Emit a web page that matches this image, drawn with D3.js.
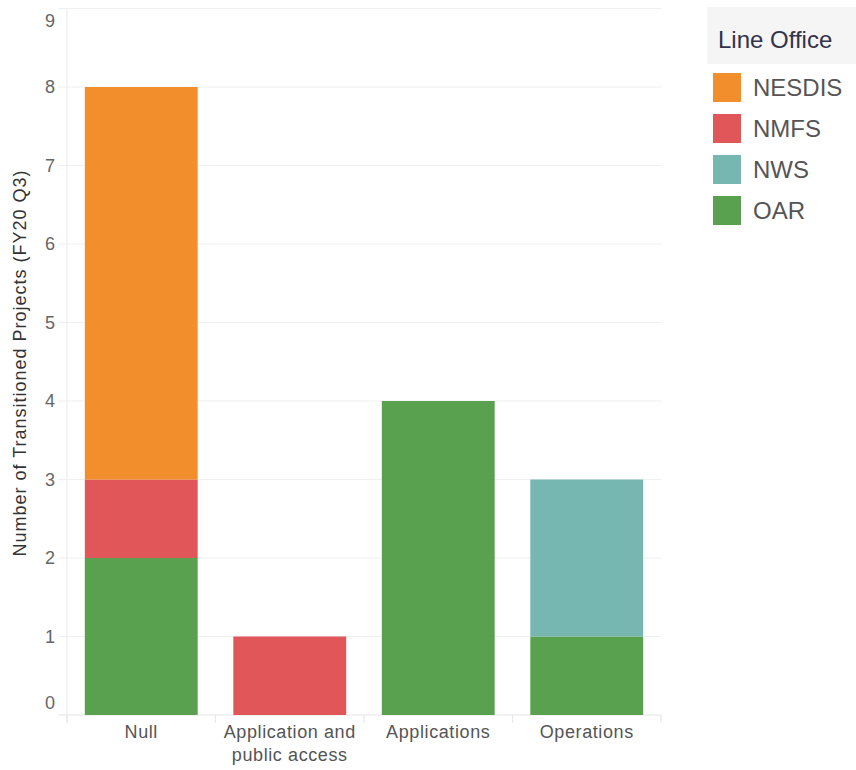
<!DOCTYPE html>
<html>
<head>
<meta charset="utf-8">
<script src="https://cdn.jsdelivr.net/npm/d3@7"></script>
<style>
  body { margin: 0; background: #fff; }
  text { font-family: "Liberation Sans", Arial, sans-serif; }
</style>
</head>
<body>
<div id="chart"></div>
<script>
// data
const categories = ["Null", "Application and public access", "Applications", "Operations"];
const categoryLines = [["Null"], ["Application and", "public access"], ["Applications"], ["Operations"]];
const offices = ["NESDIS", "NMFS", "NWS", "OAR"];
const officeColors = ["#f28e2b", "#e15759", "#76b7b2", "#59a14f"];
const nesdis = [5, 0, 0, 0];
const nmfs = [1, 1, 0, 0];
const nws = [0, 0, 0, 2];
const oar = [2, 0, 4, 1];
const yTicks = [0, 1, 2, 3, 4, 5, 6, 7, 8, 9];

const W = 856, H = 770;
const plotLeft = 67, plotRight = 661, plotTop = 8.5, plotBottom = 715;

const svg = d3.select("#chart").append("svg")
    .attr("width", W)
    .attr("height", H);

// table for d3.stack
const table = categories.map((c, i) => ({
    cat: c, NESDIS: nesdis[i], NMFS: nmfs[i], NWS: nws[i], OAR: oar[i]
}));

const x = d3.scaleBand()
    .domain(categories)
    .range([plotLeft, plotRight])
    .paddingInner(0.24)
    .paddingOuter(0.12);

const y = d3.scaleLinear()
    .domain([0, 9])
    .range([plotBottom, plotTop]);

const color = d3.scaleOrdinal().domain(offices).range(officeColors);

// gridlines
svg.append("g").selectAll("line")
  .data(yTicks)
  .join("line")
    .attr("x1", 58).attr("x2", plotRight)
    .attr("y1", d => y(d)).attr("y2", d => y(d))
    .attr("stroke", d => d === 0 ? "#e6e6e6" : "#f0f0f0")
    .attr("stroke-width", 1.2);

// vertical axis line
svg.append("line")
    .attr("x1", plotLeft).attr("x2", plotLeft)
    .attr("y1", y(9)).attr("y2", plotBottom + 8)
    .attr("stroke", "#ececec")
    .attr("stroke-width", 1.2);

// y tick labels (clamped like tableau)
svg.append("g").selectAll("text")
  .data(yTicks)
  .join("text")
    .attr("x", 55)
    .attr("y", d => Math.min(Math.max(y(d), y(9) + 12), y(0) - 12))
    .attr("dy", "0.35em")
    .attr("text-anchor", "end")
    .attr("font-size", 18)
    .attr("fill", "#666")
    .text(d => d);

// category separators
const bounds = categories.map(c => x(c) - x.step() * 0.12).concat([plotRight]);
svg.append("g").selectAll("line")
  .data(bounds)
  .join("line")
    .attr("x1", d => d).attr("x2", d => d)
    .attr("y1", plotBottom).attr("y2", plotBottom + 8)
    .attr("stroke", "#e6e6e6")
    .attr("stroke-width", 1.2);

// stacked bars
const stacked = d3.stack().keys(offices.slice().reverse())(table);
svg.append("g").selectAll("g")
  .data(stacked)
  .join("g")
    .attr("fill", d => color(d.key))
  .selectAll("rect")
  .data(d => d)
  .join("rect")
    .attr("x", d => x(d.data.cat))
    .attr("y", d => y(d[1]))
    .attr("width", x.bandwidth())
    .attr("height", d => y(d[0]) - y(d[1]));

// x labels
svg.append("g").selectAll("text")
  .data(categories)
  .join("text")
    .attr("x", d => x(d) + x.bandwidth() / 2)
    .attr("y", 738)
    .attr("text-anchor", "middle")
    .attr("font-size", 18)
    .attr("letter-spacing", 0.6)
    .attr("fill", "#555")
  .selectAll("tspan")
  .data((d, i) => categoryLines[i])
  .join("tspan")
    .attr("x", function () { return d3.select(this.parentNode).attr("x"); })
    .attr("dy", (d, i) => i === 0 ? 0 : 23)
    .text(d => d);

// y axis title
svg.append("text")
    .attr("transform", `translate(26,363) rotate(-90)`)
    .attr("text-anchor", "middle")
    .attr("font-size", 18)
    .attr("letter-spacing", 1)
    .attr("fill", "#333")
    .text("Number of Transitioned Projects (FY20 Q3)");

// legend
const legend = svg.append("g");
legend.append("rect")
    .attr("x", 707).attr("y", 7)
    .attr("width", W - 707).attr("height", 57)
    .attr("fill", "#f5f5f5");
legend.append("text")
    .attr("x", 718).attr("y", 48)
    .attr("font-size", 24)
    .attr("fill", "#33334a")
    .text("Line Office");
const items = legend.selectAll("g.item")
  .data(offices)
  .join("g")
    .attr("class", "item")
    .attr("transform", (d, i) => `translate(713,${73 + i * 41})`);
items.append("rect")
    .attr("width", 28).attr("height", 29)
    .attr("fill", d => color(d));
items.append("text")
    .attr("x", 40).attr("y", 23)
    .attr("font-size", 24)
    .attr("fill", "#555")
    .text(d => d);
</script>
</body>
</html>
